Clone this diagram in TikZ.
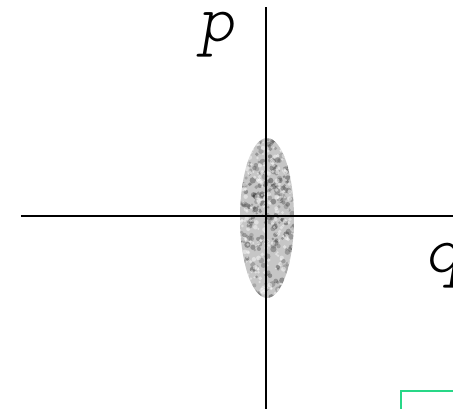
\documentclass[tikz,border=0pt]{standalone}
\usepackage{fontspec}
\definecolor{boxgreen}{RGB}{40,215,135}
\begin{document}
\begin{tikzpicture}[x=1pt, y=1pt,
    axisline/.style={draw=black, line width=1.5pt},
    axislabel/.style={font=\ttfamily\fontseries{l}\itshape\fontsize{68}{68}\selectfont, inner sep=0pt}]
    \useasboundingbox (-266,-193) rectangle (187,216);
    % Coordinates
    \coordinate (origin) at (0,0);
    \coordinate (left) at (-245,0);
    \coordinate (right) at (190,0);
    \coordinate (top) at (0,209);
    \coordinate (bottom) at (0,-196);

    % Speckled region
    \begin{scope}
        \clip (1,-2) ellipse [x radius=27, y radius=80];
        \fill[gray!45] (-30,-85) rectangle (30,85);
        \pgfmathsetseed{7}
        \foreach \i in {1,...,280} {
            \pgfmathsetmacro{\px}{rand*28}
            \pgfmathsetmacro{\py}{rand*82}
            \pgfmathsetmacro{\pr}{1.2+2*rnd}
            \pgfmathsetmacro{\pc}{50+35*rnd}
            \fill[black!\pc, opacity=0.4] (\px,\py) circle (\pr);
        }
        \foreach \i in {1,...,240} {
            \pgfmathsetmacro{\px}{rand*28}
            \pgfmathsetmacro{\py}{rand*82}
            \pgfmathsetmacro{\pr}{1+1.5*rnd}
            \fill[white, opacity=0.45] (\px,\py) circle (\pr);
        }
    \end{scope}

    % Axes
    \draw[axisline] (left) -- (right);
    \draw[axisline] (bottom) -- (top);

    % Labels
    \node[axislabel] (plabel) at (-50,181) {p};
    \node[axislabel] (qlabel) at (177,-50) {q};

    % Box corner
    \draw[boxgreen, line width=2pt] (200,-175) -- (135,-175) -- (135,-200);
\end{tikzpicture}
\end{document}
